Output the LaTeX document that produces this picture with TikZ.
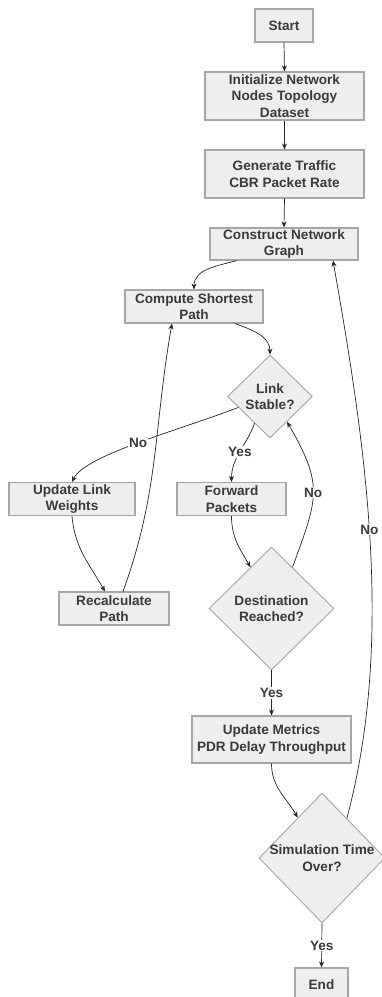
\documentclass[tikz,border=0pt]{standalone}
\usepackage{fontspec}
\setmainfont{Liberation Sans}
\usetikzlibrary{shapes.geometric,arrows.meta}
\definecolor{boxfill}{HTML}{EEEEEE}
\definecolor{boxline}{HTML}{A6A6A6}
\definecolor{txtgray}{HTML}{3A3A3A}

\begin{document}
\begin{tikzpicture}[x=1pt,y=1pt]
         \tikzset{every node/.style={font=\bfseries\fontsize{13.6}{16.7}\selectfont,text=txtgray}}
         \tikzset{procbox/.style={draw=boxline,line width=1.1pt,fill=boxfill,align=center,inner sep=0pt}}
         \tikzset{decision/.style={diamond,draw=boxline,line width=0.9pt,fill=boxfill,inner sep=0pt}}
         \tikzset{flow/.style={-{Stealth[length=6pt,width=5pt]},line width=0.7pt,draw=black!85}}
         \tikzset{answer/.style={fill=white,inner sep=1pt}}
         \useasboundingbox (0,0) rectangle (382,-997);
         \node[procbox,minimum width=58pt,minimum height=33pt] (start) at (284,-25.5) {Start};
         \node[procbox,minimum width=159pt,minimum height=48pt] (init) at (284.5,-96) {Initialize Network\\Nodes Topology\\Dataset};
         \node[procbox,minimum width=159pt,minimum height=48pt] (traffic) at (284.5,-174) {Generate Traffic\\CBR Packet Rate};
         \node[procbox,minimum width=148pt,minimum height=32pt] (graph) at (284,-244) {Construct Network\\Graph};
         \node[procbox,minimum width=138pt,minimum height=33pt] (shortest) at (194,-306.5) {Compute Shortest\\Path};
         \node[decision,minimum width=85pt,minimum height=83pt,
               label={[align=center]center:{Link\\Stable?}}] (stable) at (270,-396.5) {};
         \node[procbox,minimum width=126pt,minimum height=33pt] (weights) at (72,-499) {Update Link\\Weights};
         \node[procbox,minimum width=109pt,minimum height=33pt] (forward) at (231.5,-499) {Forward\\Packets};
         \node[procbox,minimum width=110pt,minimum height=33pt] (recalc) at (114,-608.5) {Recalculate\\Path};
         \node[decision,minimum width=125pt,minimum height=123pt,
               label={[align=center]center:{Destination\\Reached?}}] (reached) at (271.5,-608.5) {};
         \node[procbox,minimum width=159pt,minimum height=47pt] (metrics) at (271.5,-739.5) {Update Metrics\\PDR Delay Throughput};
         \node[decision,minimum width=126pt,minimum height=130pt,
               label={[align=center]center:{Simulation Time\\Over?}}] (simover) at (322,-858) {};
         \node[procbox,minimum width=53pt,minimum height=33pt] (end) at (321.5,-984.5) {End};

         \draw[flow] (start.south) -- (init.north);
         \draw[flow] (init.south) -- (traffic.north);
         \draw[flow] (traffic.south) -- (graph.north);
         \draw[flow] ([xshift=-47pt]graph.south) to[out=195,in=90] (shortest.north);
         \draw[flow] ([xshift=41pt]shortest.south) to[out=-20,in=90] (stable.north);
         \draw[flow] (stable.199) .. controls (180,-430) and (85,-455) .. node[answer]{No} (weights.north);
         \draw[flow] (stable.240) to[out=250,in=90] node[answer]{Yes} (forward.north);
         \draw[flow] (forward.south) to[out=-90,in=120] (reached.117);
         \draw[flow] (reached.63) to[out=70,in=-60,looseness=1.3] node[answer]{No} (stable.-56);
         \draw[flow] (weights.south) to[out=-85,in=120] ([xshift=-9pt]recalc.north);
         \draw[flow] ([xshift=9pt]recalc.north) to[out=70,in=-100] ([xshift=-22pt]shortest.south);
         \draw[flow] (reached.south) -- node[answer]{Yes} (metrics.north);
         \draw[flow] (metrics.south) to[out=-90,in=120] (simover.121);
         \draw[flow] (simover.58) to[out=75,in=-80,looseness=0.85] node[answer,pos=0.52]{No} ([xshift=49pt]graph.south);
         \draw[flow] (simover.south) -- node[answer]{Yes} (end.north);
\end{tikzpicture}
\end{document}
